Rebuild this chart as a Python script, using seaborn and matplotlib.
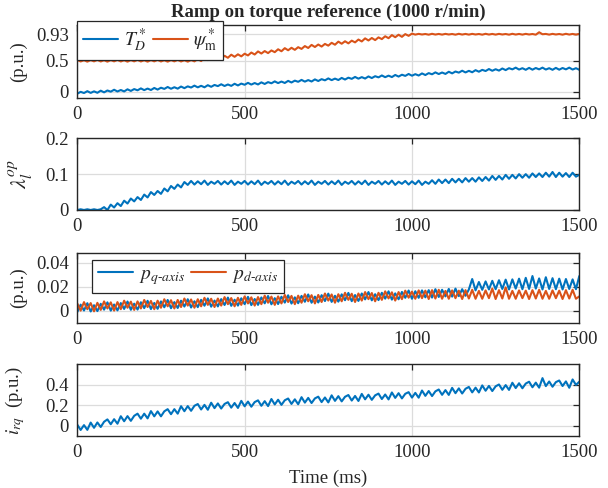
import numpy as np
import pandas as pd
import matplotlib
matplotlib.use("Agg")
import matplotlib.pyplot as plt
import seaborn as sns

# ---------------- data (10 ms steps) ----------------
time_ms = list(range(0, 1501, 10))

torque_ref = [
    -0.035, -0.005, -0.024, 0.006, -0.022, 0.003, -0.020, 0.014, -0.013, 0.017,
    -0.002, 0.029, 0.001, 0.025, 0.002, 0.036, 0.010, 0.040, 0.020, 0.051,
    0.023, 0.048, 0.025, 0.058, 0.032, 0.062, 0.043, 0.074, 0.045, 0.070,
    0.047, 0.081, 0.055, 0.084, 0.065, 0.096, 0.068, 0.093, 0.069, 0.103,
    0.077, 0.107, 0.088, 0.118, 0.090, 0.115, 0.092, 0.126, 0.099, 0.129,
    0.110, 0.141, 0.113, 0.138, 0.115, 0.149, 0.123, 0.153, 0.134, 0.165,
    0.137, 0.162, 0.139, 0.173, 0.147, 0.177, 0.158, 0.189, 0.161, 0.186,
    0.163, 0.197, 0.171, 0.201, 0.182, 0.213, 0.185, 0.210, 0.187, 0.221,
    0.195, 0.225, 0.206, 0.237, 0.209, 0.234, 0.211, 0.245, 0.219, 0.249,
    0.230, 0.261, 0.233, 0.258, 0.235, 0.269, 0.243, 0.273, 0.254, 0.285,
    0.257, 0.282, 0.260, 0.294, 0.268, 0.299, 0.280, 0.311, 0.284, 0.309,
    0.286, 0.321, 0.295, 0.325, 0.307, 0.338, 0.310, 0.336, 0.313, 0.347,
    0.322, 0.352, 0.333, 0.365, 0.337, 0.362, 0.340, 0.374, 0.348, 0.379,
    0.360, 0.388, 0.357, 0.379, 0.353, 0.384, 0.355, 0.382, 0.360, 0.388,
    0.357, 0.379, 0.353, 0.384, 0.355, 0.382, 0.360, 0.388, 0.357, 0.379,
    0.353,
]

flux_ref = [
    0.515, 0.488, 0.510, 0.485, 0.512, 0.490, 0.515, 0.488, 0.510, 0.485,
    0.512, 0.490, 0.515, 0.488, 0.510, 0.485, 0.512, 0.490, 0.515, 0.488,
    0.510, 0.485, 0.512, 0.490, 0.515, 0.488, 0.510, 0.485, 0.512, 0.490,
    0.515, 0.488, 0.510, 0.485, 0.512, 0.490, 0.527, 0.495, 0.545, 0.511,
    0.551, 0.518, 0.561, 0.533, 0.580, 0.548, 0.598, 0.564, 0.604, 0.571,
    0.614, 0.586, 0.633, 0.601, 0.651, 0.617, 0.657, 0.624, 0.667, 0.639,
    0.686, 0.654, 0.704, 0.670, 0.710, 0.677, 0.720, 0.692, 0.738, 0.707,
    0.757, 0.723, 0.763, 0.730, 0.773, 0.745, 0.791, 0.760, 0.810, 0.776,
    0.816, 0.782, 0.826, 0.798, 0.844, 0.813, 0.863, 0.829, 0.869, 0.835,
    0.879, 0.851, 0.897, 0.866, 0.916, 0.882, 0.922, 0.888, 0.932, 0.904,
    0.940, 0.924, 0.936, 0.926, 0.934, 0.923, 0.937, 0.925, 0.935, 0.924,
    0.936, 0.926, 0.934, 0.923, 0.937, 0.925, 0.935, 0.924, 0.936, 0.926,
    0.934, 0.923, 0.937, 0.925, 0.935, 0.924, 0.936, 0.926, 0.934, 0.923,
    0.937, 0.925, 0.935, 0.924, 0.936, 0.926, 0.934, 0.923, 0.962, 0.930,
    0.935, 0.924, 0.936, 0.926, 0.934, 0.923, 0.937, 0.925, 0.935, 0.924,
    0.936,
]

lambda_op = [
    0.000, 0.002, 0.000, 0.002, 0.000, 0.002, 0.000, 0.002, 0.008, 0.000,
    0.015, 0.007, 0.019, 0.011, 0.026, 0.018, 0.032, 0.024, 0.036, 0.028,
    0.043, 0.035, 0.050, 0.042, 0.053, 0.045, 0.060, 0.052, 0.067, 0.059,
    0.071, 0.063, 0.078, 0.070,
    0.081, 0.071, 0.080, 0.072, 0.082, 0.070, 0.079, 0.073,
    0.081, 0.071, 0.080, 0.072, 0.082, 0.070, 0.079, 0.073,
    0.081, 0.071, 0.080, 0.072, 0.082, 0.070, 0.079, 0.073,
    0.081, 0.071, 0.080, 0.072, 0.082, 0.070, 0.079, 0.073,
    0.081, 0.071, 0.080, 0.072, 0.082, 0.070, 0.079, 0.073,
    0.081, 0.071, 0.080, 0.072, 0.082, 0.070, 0.079, 0.073,
    0.081, 0.071, 0.080, 0.072, 0.082, 0.070, 0.079, 0.073,
    0.081, 0.071, 0.080, 0.072, 0.082, 0.070, 0.079, 0.073,
    0.081, 0.071, 0.080, 0.072, 0.082, 0.070, 0.079, 0.073,
    0.083, 0.073, 0.085, 0.075, 0.085, 0.075, 0.087, 0.077, 0.087, 0.077,
    0.089, 0.079, 0.089, 0.079, 0.091, 0.081, 0.092, 0.082, 0.095, 0.084,
    0.095, 0.085, 0.098, 0.087, 0.098, 0.088, 0.100, 0.090, 0.100, 0.090,
    0.102, 0.092, 0.102, 0.092, 0.104, 0.093, 0.106, 0.092, 0.104, 0.093,
    0.103, 0.092, 0.104, 0.093, 0.098,
]

p_q_axis = [
    -0.0010, 0.0051, 0.0002, 0.0063, -0.0006, 0.0046, -0.0003, 0.0058, 0.0009, 0.0070,
    0.0001, 0.0052, 0.0003, 0.0064, 0.0015, 0.0077, 0.0008, 0.0059, 0.0010, 0.0071,
    0.0022, 0.0083, 0.0014, 0.0065, 0.0016, 0.0078, 0.0029, 0.0090, 0.0021, 0.0072,
    0.0023, 0.0084, 0.0035, 0.0096, 0.0027, 0.0079, 0.0030, 0.0091, 0.0042, 0.0103,
    0.0034, 0.0085, 0.0036, 0.0097, 0.0048, 0.0110, 0.0041, 0.0092, 0.0043, 0.0104,
    0.0055, 0.0116, 0.0047, 0.0098, 0.0049, 0.0111, 0.0062, 0.0123, 0.0054, 0.0105,
    0.0056, 0.0117, 0.0068, 0.0129, 0.0060, 0.0112, 0.0063, 0.0124, 0.0075, 0.0136,
    0.0067, 0.0118, 0.0069, 0.0130, 0.0081, 0.0143, 0.0074, 0.0125, 0.0076, 0.0137,
    0.0088, 0.0149, 0.0080, 0.0131, 0.0082, 0.0144, 0.0095, 0.0156, 0.0087, 0.0138,
    0.0089, 0.0150, 0.0101, 0.0162, 0.0093, 0.0145, 0.0096, 0.0157, 0.0108, 0.0169,
    0.0100, 0.0163, 0.0108, 0.0170, 0.0112, 0.0172, 0.0110, 0.0180, 0.0115, 0.0175,
    0.0120, 0.0182, 0.0118, 0.0185, 0.0122, 0.0180, 0.0125, 0.0178, 0.0265, 0.0170,
    0.0240, 0.0175, 0.0245, 0.0178, 0.0250, 0.0180, 0.0255, 0.0182, 0.0260, 0.0178,
    0.0262, 0.0185, 0.0268, 0.0180, 0.0275, 0.0182, 0.0290, 0.0185, 0.0270, 0.0178,
    0.0280, 0.0182, 0.0272, 0.0180, 0.0268, 0.0178, 0.0265, 0.0182, 0.0262, 0.0180,
    0.0290,
]

p_d_axis = [
    0.0060, 0.0001, 0.0072, 0.0013, 0.0064, -0.0005, 0.0066, 0.0007, 0.0078, 0.0019,
    0.0070, 0.0001, 0.0072, 0.0013, 0.0084, 0.0025, 0.0076, 0.0007, 0.0078, 0.0019,
    0.0090, 0.0031, 0.0082, 0.0013, 0.0084, 0.0025, 0.0096, 0.0037, 0.0088, 0.0019,
    0.0090, 0.0031, 0.0102, 0.0043, 0.0094, 0.0025, 0.0096, 0.0037, 0.0108, 0.0049,
    0.0100, 0.0031, 0.0102, 0.0043, 0.0114, 0.0055, 0.0106, 0.0037, 0.0108, 0.0049,
    0.0120, 0.0061, 0.0112, 0.0043, 0.0114, 0.0055, 0.0126, 0.0067, 0.0118, 0.0049,
    0.0120, 0.0061, 0.0132, 0.0073, 0.0124, 0.0055, 0.0126, 0.0067, 0.0138, 0.0079,
    0.0130, 0.0061, 0.0132, 0.0073, 0.0144, 0.0085, 0.0136, 0.0067, 0.0138, 0.0079,
    0.0150, 0.0091, 0.0142, 0.0073, 0.0144, 0.0085, 0.0156, 0.0097, 0.0148, 0.0079,
    0.0150, 0.0091, 0.0162, 0.0103, 0.0154, 0.0085, 0.0156, 0.0097, 0.0168, 0.0109,
    0.0160, 0.0100, 0.0170, 0.0105, 0.0168, 0.0098, 0.0172, 0.0102, 0.0175, 0.0100,
    0.0166, 0.0100, 0.0170, 0.0105, 0.0168, 0.0098, 0.0172, 0.0102, 0.0175, 0.0100,
    0.0166, 0.0100, 0.0170, 0.0105, 0.0185, 0.0098, 0.0172, 0.0102, 0.0195, 0.0100,
    0.0166, 0.0100, 0.0170, 0.0105, 0.0168, 0.0098, 0.0172, 0.0102, 0.0175, 0.0100,
    0.0166, 0.0100, 0.0170, 0.0105, 0.0168, 0.0098, 0.0172, 0.0102, 0.0175, 0.0100,
    0.0120,
]

i_rq = [
    0.010, -0.041, 0.006, -0.040, 0.031, -0.020, 0.032, -0.012, 0.039, 0.062,
    0.015, 0.064, 0.020, 0.093, 0.044, 0.094, 0.048, 0.097, 0.118, 0.069,
    0.118, 0.072, 0.143, 0.092, 0.140, 0.092, 0.141, 0.162, 0.113, 0.162,
    0.118, 0.191, 0.142, 0.192, 0.146, 0.195, 0.212, 0.159, 0.204, 0.156,
    0.225, 0.172, 0.218, 0.168, 0.213, 0.230, 0.177, 0.222, 0.174, 0.243,
    0.190, 0.236, 0.186, 0.231, 0.248, 0.195, 0.240, 0.192, 0.261, 0.208,
    0.254, 0.204, 0.249, 0.266, 0.213, 0.258, 0.210, 0.279, 0.226, 0.272,
    0.222, 0.267, 0.284, 0.231, 0.276, 0.228, 0.297, 0.243, 0.289, 0.238,
    0.283, 0.300, 0.246, 0.291, 0.242, 0.311, 0.258, 0.303, 0.253, 0.297,
    0.314, 0.261, 0.305, 0.257, 0.325, 0.272, 0.318, 0.267, 0.312, 0.328,
    0.275, 0.321, 0.274, 0.344, 0.292, 0.339, 0.290, 0.336, 0.354, 0.302,
    0.348, 0.301, 0.370, 0.318, 0.365, 0.315, 0.361, 0.379, 0.326, 0.372,
    0.325, 0.394, 0.342, 0.389, 0.339, 0.385, 0.403, 0.351, 0.397, 0.350,
    0.420, 0.368, 0.415, 0.366, 0.412, 0.430, 0.376, 0.421, 0.372, 0.465,
    0.387, 0.432, 0.381, 0.426, 0.442, 0.388, 0.433, 0.371, 0.452, 0.399,
    0.430,
]

x_ticks = [0, 500, 1000, 1500]
title_text = "Ramp on torque reference (1000 r/min)"

# ---------------- style ----------------
sns.set_theme(style="white")
plt.rcParams["font.family"] = ["Liberation Serif", "DejaVu Serif"]
plt.rcParams["mathtext.fontset"] = "stix"
plt.rcParams["xtick.direction"] = "in"
plt.rcParams["ytick.direction"] = "in"

BLUE = "#0072BD"
ORANGE = "#D95319"
TICK_FS = 13.5
LW = 1.5

df = pd.DataFrame({
    "t": time_ms, "TD": torque_ref, "psi": flux_ref, "lam": lambda_op,
    "pq": p_q_axis, "pd": p_d_axis, "irq": i_rq,
})

fig = plt.figure(figsize=(6.08, 4.88), dpi=100)
W, H = 608.0, 488.0
left_px, right_px = 77.3, 579.3
boxes = [(25.0, 97.7), (138.3, 210.0), (253.3, 322.7), (364.3, 436.0)]
axes = []
for top, bot in boxes:
    ax = fig.add_axes([left_px / W, 1 - bot / H, (right_px - left_px) / W, (bot - top) / H])
    axes.append(ax)


def style_axis(ax, yticks, ylim, yticklabels, label_x=-0.10):
    ax.set_xlim(0, 1500)
    ax.set_ylim(*ylim)
    ax.set_xticks(x_ticks)
    ax.set_xticklabels([str(v) for v in x_ticks])
    ax.set_yticks(yticks)
    ax.set_yticklabels(yticklabels)
    ax.grid(True, color="#dcdcdc", linewidth=0.9)
    ax.set_axisbelow(True)
    ax.tick_params(axis="both", which="major", direction="in", length=4, width=0.9,
                   top=True, right=True, labelsize=TICK_FS, colors="#262626", pad=6)
    for s in ax.spines.values():
        s.set_color("#262626")
        s.set_linewidth(1.0)
    ax.set_xlabel("")
    ax.yaxis.set_label_coords(label_x, 0.5)


def add_legend(ax, anchor):
    leg = ax.legend(loc="upper left", bbox_to_anchor=anchor, ncol=2, fontsize=14,
                    frameon=True, fancybox=False, edgecolor="#262626", framealpha=1,
                    handlelength=1.8, columnspacing=0.3, handletextpad=0.3,
                    borderpad=0.3, borderaxespad=0.0)
    leg.get_frame().set_linewidth(0.9)


# Panel 1
ax = axes[0]
sns.lineplot(data=df, x="t", y="TD", ax=ax, color=BLUE, linewidth=LW, label=r"$T_D^*$")
sns.lineplot(data=df, x="t", y="psi", ax=ax, color=ORANGE, linewidth=LW, label=r"$\psi_\mathrm{m}^*$")
style_axis(ax, [0, 0.5, 0.93], (-0.1, 1.08), ["0", "0.5", "0.93"])
ax.set_ylabel("(p.u.)", fontsize=TICK_FS)
add_legend(ax, (0.0, 1.06))
ax.set_title(title_text, fontsize=13.5, fontweight="bold", pad=6)

# Panel 2
ax = axes[1]
sns.lineplot(data=df, x="t", y="lam", ax=ax, color=BLUE, linewidth=LW, legend=False)
style_axis(ax, [0, 0.1, 0.2], (0, 0.2), ["0", "0.1", "0.2"], label_x=-0.085)
ax.set_ylabel(r"$\lambda_l^{op}$", fontsize=16)

# Panel 3
ax = axes[2]
sns.lineplot(data=df, x="t", y="pq", ax=ax, color=BLUE, linewidth=LW, label=r"$p_{q\text{-}axis}$")
sns.lineplot(data=df, x="t", y="pd", ax=ax, color=ORANGE, linewidth=LW, label=r"$p_{d\text{-}axis}$")
style_axis(ax, [0, 0.02, 0.04], (-0.01, 0.048), ["0", "0.02", "0.04"])
ax.set_ylabel("(p.u.)", fontsize=TICK_FS)
add_legend(ax, (0.029, 0.91))

# Panel 4
ax = axes[3]
sns.lineplot(data=df, x="t", y="irq", ax=ax, color=BLUE, linewidth=LW, legend=False)
style_axis(ax, [0, 0.2, 0.4], (-0.1, 0.6), ["0", "0.2", "0.4"])
ax.set_ylabel(r"$i_{rq}$  (p.u.)", fontsize=TICK_FS)
ax.set_xlabel("Time (ms)", fontsize=TICK_FS, color="#262626", labelpad=6)

fig.savefig("out.png", dpi=100, facecolor="white")
